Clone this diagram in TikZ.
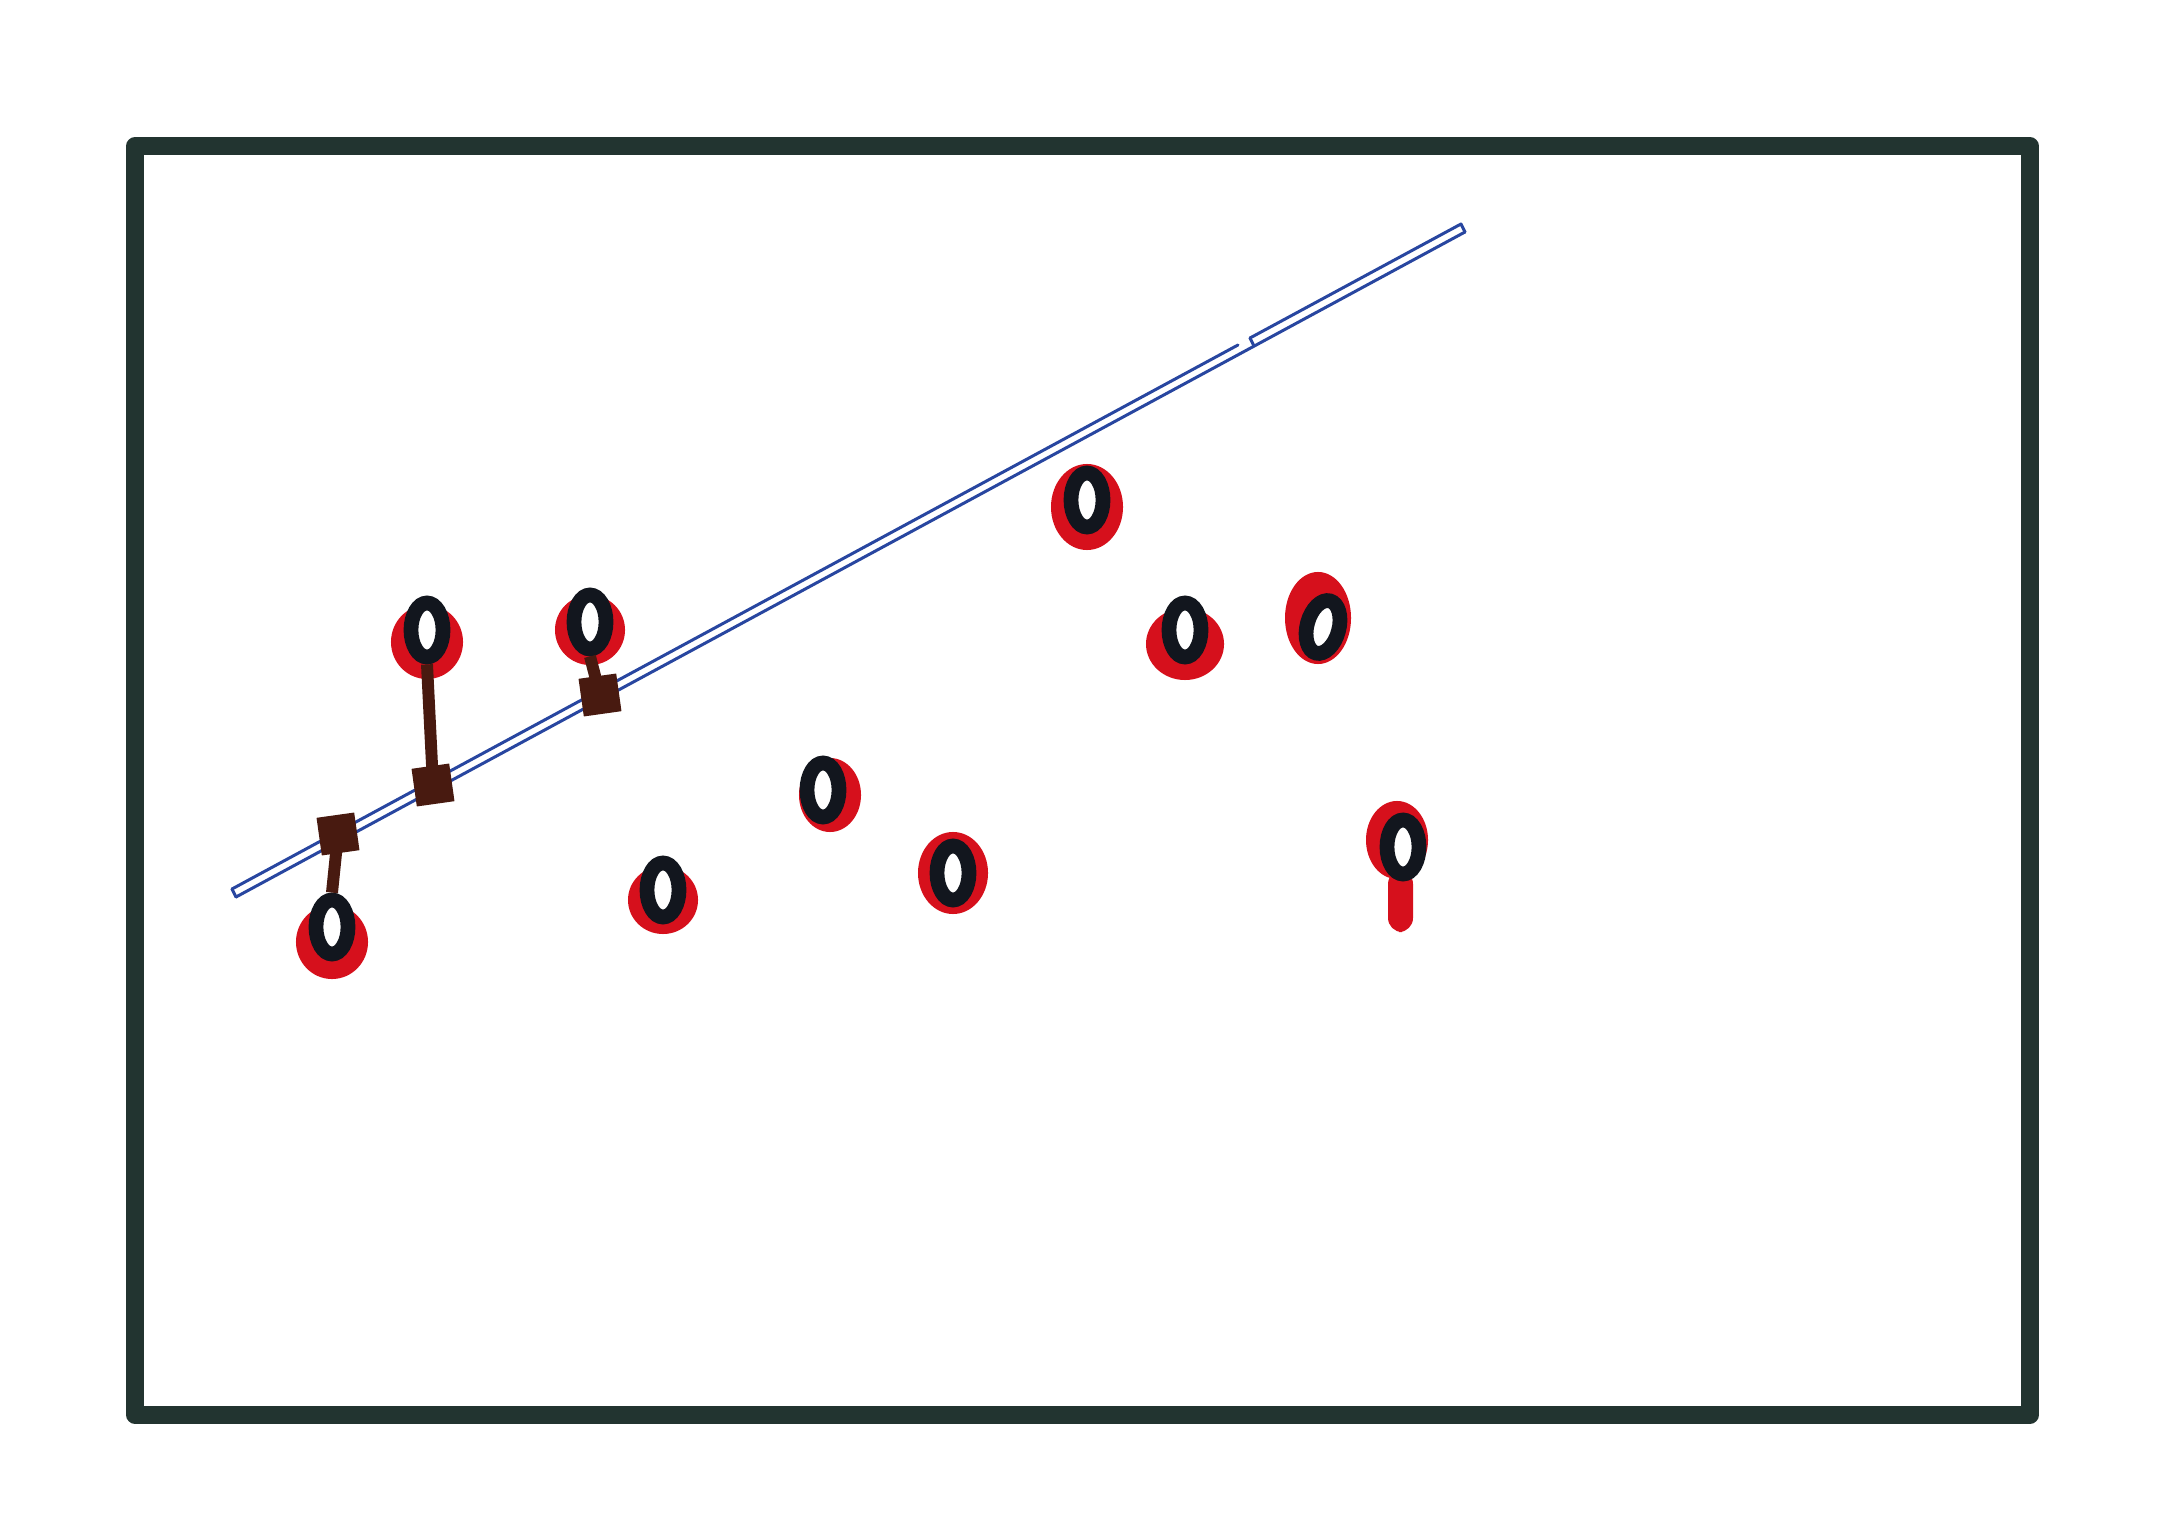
\documentclass[tikz,border=0pt]{standalone}
\usetikzlibrary{shapes.geometric}
\definecolor{frameink}{RGB}{34,52,48}
\definecolor{redink}{RGB}{214,16,28}
\definecolor{blackink}{RGB}{18,22,30}
\definecolor{brownink}{RGB}{72,26,16}
\definecolor{blueink}{RGB}{40,70,160}
\tikzset{
  ring/.style={shape=ellipse, draw=blackink, fill=white, line width=4.2pt, minimum width=0.32cm, minimum height=0.54cm, inner sep=0pt},
  foot/.style={shape=rectangle, fill=brownink, minimum width=0.38cm, minimum height=0.38cm, inner sep=0pt, rotate=8},
  conn/.style={draw=brownink, line width=3.4pt},
  bline/.style={draw=blueink, line width=0.85pt, line cap=round, line join=round},
  frameline/.style={draw=frameink, line width=4.9pt, line join=round}
}
\newcommand{\redblob}[4]{\fill[redink] (#1,#2) ellipse [x radius=#3cm, y radius=#4cm];}
\begin{document}
\begin{tikzpicture}[x=0.01cm,y=-0.01cm]
\fill[white] (0,0) rectangle (2164,1537);
\useasboundingbox (0,0) rectangle (2164,1537);
% frame
\draw[frameline] (135,146) rectangle (2030,1415);
% blue double line
\draw[bline] (232,889) -- (1238,345);
\draw[bline] (236,897) -- (1465,232);
\draw[bline] (232,889) -- (236,897);
\draw[bline] (1250,338) -- (1254,346);
\draw[bline] (1250,338) -- (1461,224) -- (1465,232);
% red blobs
\redblob{427}{642}{0.36}{0.37}
\redblob{590}{630}{0.35}{0.35}
\redblob{332}{942}{0.36}{0.37}
\redblob{663}{900}{0.35}{0.34}
\redblob{830}{795}{0.31}{0.37}
\redblob{953}{873}{0.35}{0.41}
\redblob{1087}{507}{0.36}{0.43}
\redblob{1185}{644}{0.39}{0.36}
\redblob{1318}{618}{0.33}{0.46}
\redblob{1397}{840}{0.31}{0.39}
\fill[redink, rounded corners=4pt] (1388,870) rectangle (1413,932);
% foot blocks on the line
\node[foot] (f1) at (433,785) {};
\node[foot] (f2) at (600,695) {};
\node[foot] (f3) at (338,834) {};
% dots
\node[ring] (d1) at (427,630) {};
\node[ring] (d2) at (590,622) {};
\node[ring] (d3) at (332,927) {};
\node[ring] (d4) at (663,890) {};
\node[ring] (d5) at (823,790) {};
\node[ring] (d6) at (953,873) {};
\node[ring] (d7) at (1087,500) {};
\node[ring] (d8) at (1185,630) {};
\node[ring, rotate=-15] (d9) at (1323,627) {};
\node[ring] (d10) at (1403,847) {};
% connectors
\draw[conn] (d1.south) -- (f1.center);
\draw[conn] (d2.south) -- (f2.center);
\draw[conn] (d3.north) -- (f3.center);
\end{tikzpicture}
\end{document}
